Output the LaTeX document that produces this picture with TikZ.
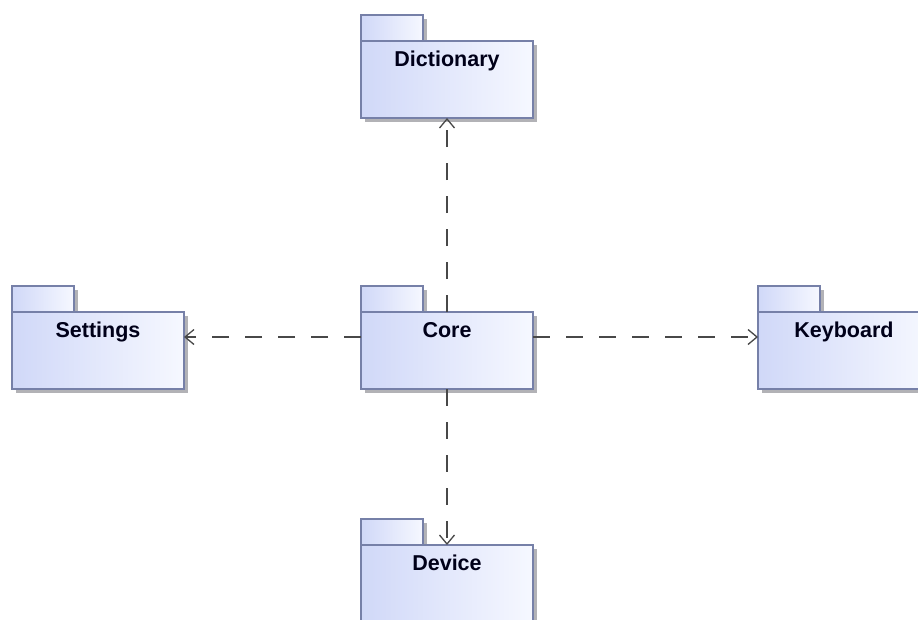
\documentclass[tikz,border=0pt]{standalone}
\usepackage{fontspec}
\setmainfont{Liberation Sans}
\usetikzlibrary{arrows.meta,shadows}
\definecolor{pkgdark}{RGB}{208,216,248}
\definecolor{pkglight}{RGB}{246,248,255}
\definecolor{pkgedge}{RGB}{118,128,168}
\definecolor{pkgshadow}{RGB}{178,178,182}
\definecolor{depline}{RGB}{72,72,72}
\tikzset{
  x=1pt, y=-1pt,
  pkgshade/.style={left color=pkgdark, right color=pkglight,
    draw=pkgedge, line width=1.4pt,
    drop shadow={shadow xshift=3.5pt, shadow yshift=-3.5pt, fill=pkgshadow, opacity=1}},
  pkgbody/.style={pkgshade, rectangle, minimum width=172pt, minimum height=77pt,
    inner sep=0pt, outer sep=0pt},
  pkgname/.style={anchor=base, inner sep=0pt, font=\fontsize{21.5}{25}\selectfont\bfseries,
    text=black!90!blue},
  dep/.style={draw=depline, line width=1.3pt, dash pattern=on 17pt off 16pt,
    -{Straight Barb[length=9pt,width=15pt,line width=1.3pt]}},
}
% a package: tab, body and its name
\newcommand\umlpackage[4]{%
  \path[pkgshade] (#2,#3) rectangle ++(62,-26);
  \node[pkgbody, anchor=north west] (#1) at (#2,#3) {};
  \node[pkgname] (#1-name) at ([yshift=-25.5pt]#1.north) {#4};
}
\begin{document}
\begin{tikzpicture}
\useasboundingbox (0,0) rectangle (918,619);
\umlpackage{dict}{361}{41}{Dictionary}
\umlpackage{core}{361}{312}{Core}
\umlpackage{settings}{12}{312}{Settings}
\umlpackage{keyboard}{758}{312}{Keyboard}
\umlpackage{device}{361}{545}{Device}
% dependencies of Core
\draw[dep] (core.north) -- (dict.south);
\draw[dep] (core.south) -- (device.north);
\draw[dep] ([yshift=13.5pt]core.west) -- ([yshift=13.5pt]settings.east);
\draw[dep] ([yshift=13.5pt]core.east) -- ([yshift=13.5pt]keyboard.west);
\end{tikzpicture}
\end{document}
